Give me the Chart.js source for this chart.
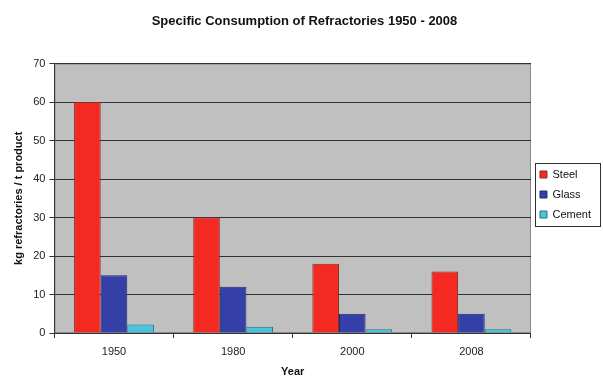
<!DOCTYPE html>
<html>
<head>
<meta charset="utf-8">
<script src="https://cdn.jsdelivr.net/npm/chart.js@4/dist/chart.umd.min.js"></script>
<style>
  html, body { margin: 0; padding: 0; background: #fff; }
  #wrap { width: 603px; height: 381px; }
</style>
</head>
<body>
<div id="wrap"><canvas id="chart" width="603" height="381"></canvas></div>
<script>
const years = ['1950', '1980', '2000', '2008'];
const steel = [60, 30, 18, 16];
const glass = [15, 12, 5, 5];
const cement = [2.2, 1.6, 1.0, 1.0];
const yTicks = [0, 10, 20, 30, 40, 50, 60, 70];

// gray plot area + legend frame, like the old spreadsheet chart
const plotBackground = {
    id: 'plotBackground',
    beforeDraw(chart) {
        const { ctx, chartArea: a } = chart;
        ctx.save();
        ctx.fillStyle = '#c0c0c0';
        ctx.fillRect(a.left, a.top, a.right - a.left, a.bottom - a.top);
        ctx.strokeStyle = '#8a8a8a';
        ctx.lineWidth = 1;
        ctx.strokeRect(a.left + 0.5, a.top + 0.5, a.right - a.left - 1, a.bottom - a.top - 1);
        ctx.restore();
    },
    afterDraw(chart) {
        const boxes = chart.legend.legendHitBoxes;
        if (!boxes || !boxes.length) return;
        const x0 = Math.min(...boxes.map(b => b.left)) - 5;
        const x1 = chart.width - 3;
        const y0 = Math.min(...boxes.map(b => b.top)) - 6;
        const y1 = Math.max(...boxes.map(b => b.top + b.height)) + 6;
        const ctx = chart.ctx;
        ctx.save();
        ctx.strokeStyle = '#333';
        ctx.lineWidth = 1;
        ctx.strokeRect(Math.round(x0) + 0.5, Math.round(y0) + 0.5, Math.round(x1 - x0), Math.round(y1 - y0));
        ctx.restore();
    }
};

const font = 'Liberation Sans, Arial, sans-serif';

new Chart(document.getElementById('chart'), {
    type: 'bar',
    data: {
        labels: years,
        datasets: [
            { label: 'Steel', data: steel, backgroundColor: '#f42a22', borderColor: '#8a2a20', borderWidth: 1 },
            { label: 'Glass', data: glass, backgroundColor: '#3440a8', borderColor: '#222a70', borderWidth: 1 },
            { label: 'Cement', data: cement, backgroundColor: '#48c4dc', borderColor: '#2a7080', borderWidth: 1 }
        ]
    },
    options: {
        responsive: false,
        animation: false,
        layout: { padding: { left: 8, right: 2, top: 8, bottom: 0 } },
        datasets: { bar: { categoryPercentage: 0.67, barPercentage: 1 } },
        plugins: {
            title: {
                display: true,
                text: 'Specific Consumption of Refractories 1950 - 2008',
                color: '#111',
                font: { family: font, size: 13, weight: 'bold' },
                padding: { top: 6, bottom: 34 }
            },
            legend: {
                position: 'right',
                labels: {
                    boxWidth: 7,
                    boxHeight: 7,
                    color: '#111',
                    padding: 9,
                    font: { family: font, size: 11 }
                }
            },
            tooltip: { enabled: false }
        },
        scales: {
            x: {
                afterFit(axis) { axis.height = 48; },
                grid: { display: true, offset: true, drawOnChartArea: false, color: '#333', tickLength: 5 },
                border: { color: '#333' },
                ticks: { color: '#222', font: { family: font, size: 11 }, padding: 7 },
                title: { display: true, text: 'Year', color: '#111', font: { family: font, size: 11, weight: 'bold' }, padding: { top: 4, bottom: 2 } }
            },
            y: {
                min: 0,
                max: 70,
                afterBuildTicks(axis) { axis.ticks = yTicks.map(v => ({ value: v })); },
                grid: { color: '#333', tickLength: 5 },
                border: { color: '#333' },
                ticks: { color: '#222', font: { family: font, size: 11 }, padding: 4 },
                title: { display: true, text: 'kg refractories / t product', color: '#111', font: { family: font, size: 11, weight: 'bold' }, padding: 4 }
            }
        }
    },
    plugins: [plotBackground]
});
</script>
</body>
</html>
